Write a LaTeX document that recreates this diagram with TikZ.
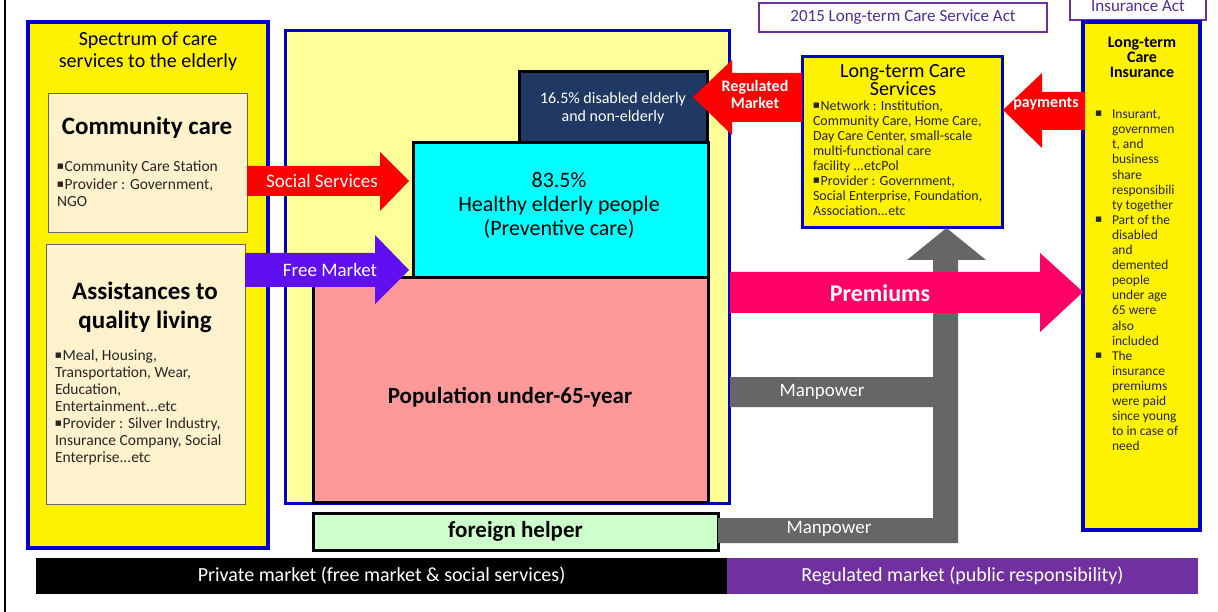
\documentclass[tikz,border=0pt]{standalone}
\usepackage{fontspec}
\setmainfont{Carlito}
\newfontfamily\symfont{DejaVu Sans}
\usetikzlibrary{positioning}

\definecolor{panelblue}{HTML}{0000CC}
\definecolor{paleyellow}{HTML}{FFFF99}
\definecolor{cream}{HTML}{FFF2CC}
\definecolor{navyfill}{HTML}{1F3864}
\definecolor{popfill}{HTML}{FF9999}
\definecolor{healthyfill}{HTML}{00FFFF}
\definecolor{helperfill}{HTML}{CCFFCC}
\definecolor{arrowred}{HTML}{FF0000}
\definecolor{freeviolet}{HTML}{6010F0}
\definecolor{premiumpink}{HTML}{FF0066}
\definecolor{mangray}{HTML}{666666}
\definecolor{regpurple}{HTML}{7030A0}
\definecolor{acttext}{HTML}{4A2FA0}

\newcommand{\sqb}{\raisebox{0.2em}{\symfont\fontsize{7}{7}\selectfont ■}\hspace{1pt}}

\begin{document}
\begin{tikzpicture}[x=1pt,y=-1pt,
    box/.style={anchor=north west, inner sep=0pt, outer sep=0pt},
    panel/.style={box, draw=panelblue, line width=3pt, fill=yellow},
    stack/.style={box, draw=black, line width=3pt},
    creambox/.style={box, draw=black!60, line width=1pt, fill=cream},
    txt/.style={inner sep=0pt, align=center},
    bodytxt/.style={box, align=left, text=black!85},
    wlabel/.style={inner sep=0pt, align=center, text=white}]
  \useasboundingbox (0,0) rectangle (1218,612);
  \clip (0,0) rectangle (1218,612);

  \draw [line width=1.5pt] (5,0) -- (5,612);% slide edge

  % left column
  \node [panel, line width=3.5pt, minimum width=240pt, minimum height=526pt] (spectrum) at (28,22) {};
  \node [txt, font=\fontsize{20}{22}\selectfont] (spectitle) at (148,51) {Spectrum of care\\services to the elderly};

  \node [creambox, minimum width=199pt, minimum height=139pt] (community) at (48,94) {};
  \node [txt, font=\bfseries\fontsize{25}{28}\selectfont] (commtitle) at (147,128) {Community care};
  \node [bodytxt, font=\fontsize{15.5}{17.5}\selectfont] (commtext) at (57,161) {\sqb Community Care Station\\\sqb Provider : Government,\\NGO};

  \node [creambox, minimum width=199pt, minimum height=259pt] (assist) at (46,245) {};
  \node [txt, font=\bfseries\fontsize{25}{29}\selectfont] (assisttitle) at (145,307.5) {Assistances to\\quality living};
  \node [bodytxt, font=\fontsize{15.5}{17}\selectfont] (assisttext) at (55,350) {\sqb Meal, Housing,\\Transportation, Wear,\\Education,\\Entertainment...etc\\\sqb Provider : Silver Industry,\\Insurance Company, Social\\Enterprise...etc};

  % middle stack
  \node [box, draw=panelblue, line width=3pt, fill=paleyellow, minimum width=444pt, minimum height=472pt] (center) at (285,31) {};
  \node [stack, fill=popfill, minimum width=395pt, minimum height=224pt] (population) at (313,278) {};
  \node [txt, font=\bfseries\fontsize{23}{26}\selectfont] (poptext) at (510,397) {Population under-65-year};
  \node [stack, fill=healthyfill, minimum width=295pt, minimum height=135pt] (healthy) at (413,143) {};
  \node [txt, font=\fontsize{22}{24}\selectfont] (healthytext) at (559,206) {83.5\%\\Healthy elderly people\\(Preventive care)};
  \node [stack, fill=navyfill, minimum width=188pt, minimum height=71pt] (disabled) at (519,72) {};
  \node [wlabel, font=\fontsize{16}{18}\selectfont] (disabledtext) at (613,108) {16.5\% disabled elderly\\and non-elderly};

  \node [stack, fill=helperfill, minimum width=405pt, minimum height=37pt] (helper) at (313,513) {};
  \node [txt, font=\bfseries\fontsize{23}{26}\selectfont] (helpertext) at (helper.center) {foreign helper};

  % acts
  \node [box, draw=regpurple, line width=2.5pt, fill=white, minimum width=288pt, minimum height=29pt] (actlcs) at (759,3) {};
  \node [txt, text=acttext, font=\fontsize{17}{19}\selectfont] (actlcstext) at (actlcs.center) {2015 Long-term Care Service Act};
  \node [box, draw=regpurple, line width=2.5pt, fill=white, minimum width=136pt, minimum height=35pt] (actins) at (1070,-15) {};
  \node [txt, text=acttext, font=\fontsize{17}{19}\selectfont] (actinstext) at (1138,6) {Insurance Act};

  % long-term care services
  \node [panel, minimum width=200pt, minimum height=171pt] (ltcs) at (802,57) {};
  \node [txt, font=\fontsize{20}{18}\selectfont] (ltcstitle) at (903,80) {Long-term Care\\Services};
  \node [bodytxt, font=\fontsize{14}{15}\selectfont] (ltcstext) at (813,101) {\sqb Network : Institution,\\Community Care, Home Care,\\Day Care Center, small-scale\\multi-functional care\\facility ...etcPol\\\sqb Provider : Government,\\Social Enterprise, Foundation,\\Association...etc};

  % long-term care insurance
  \node [panel, line width=3.5pt, minimum width=117pt, minimum height=508pt] (ltci) at (1083,22) {};
  \node [txt, font=\bfseries\fontsize{16}{15}\selectfont] (ltcititle) at (1142,57) {Long-term\\Care\\Insurance};
  \node [bodytxt, font=\fontsize{13.5}{15.1}\selectfont] (ltcitext) at (1112,110) {\llap{\sqb\hspace{9pt}}Insurant,\\governmen\\t, and\\business\\share\\responsibili\\ty together\\\llap{\sqb\hspace{9pt}}Part of the\\disabled\\and\\demented\\people\\under age\\65 were\\also\\included\\\llap{\sqb\hspace{9pt}}The\\insurance\\premiums\\were paid\\since young\\to in case of\\need};

  % arrows into the stack
  \fill [arrowred] (247,166) -- (380,166) -- (380,152) -- (409,181) -- (380,211) -- (380,196) -- (247,196) -- cycle;
  \node [wlabel, font=\fontsize{19}{21}\selectfont] (socialtext) at (322,181) {Social Services};
  \fill [freeviolet] (245,253) -- (375,253) -- (375,235) -- (409,270) -- (375,304) -- (375,287) -- (245,287) -- cycle;
  \node [wlabel, font=\fontsize{19}{21}\selectfont] (freetext) at (330,270) {Free Market};
  \fill [arrowred] (802,73) -- (732,73) -- (732,60) -- (693,97) -- (732,135) -- (732,122) -- (802,122) -- cycle;
  \node [wlabel, font=\bfseries\fontsize{16}{17}\selectfont] (regtext) at (755,94) {Regulated\\Market};
  \fill [arrowred] (1085,92) -- (1042,92) -- (1042,73) -- (1003,110) -- (1042,148) -- (1042,130) -- (1085,130) -- cycle;
  \node [wlabel, font=\bfseries\fontsize{16}{18}\selectfont] (paytext) at (1046,104) {payments};

  % manpower
  \fill [mangray] (730,377) -- (933,377) -- (933,260) -- (907,260) -- (946.5,228) -- (986,260) -- (958,260) -- (958,543) -- (718,543) -- (718,518) -- (933,518) -- (933,407) -- (730,407) -- cycle;
  \node [wlabel, font=\fontsize{19}{21}\selectfont] (manup) at (822,392) {Manpower};
  \node [wlabel, font=\fontsize{19}{21}\selectfont] (mandown) at (829,529) {Manpower};

  % premiums
  \fill [premiumpink] (730,272) -- (1040,272) -- (1040,253) -- (1083,292) -- (1040,332) -- (1040,313) -- (730,313) -- cycle;
  \node [wlabel, font=\bfseries\fontsize{24}{26}\selectfont] (premtext) at (880,293) {Premiums};

  % bottom bar
  \node [box, fill=black, minimum width=691pt, minimum height=36pt] (privbar) at (36,558) {};
  \node [wlabel, font=\fontsize{20}{22}\selectfont] (privtext) at (privbar.center) {Private market (free market \& social services)};
  \node [box, fill=regpurple, minimum width=471pt, minimum height=36pt] (regbar) at (727,558) {};
  \node [wlabel, font=\fontsize{20}{22}\selectfont] (regbartext) at (regbar.center) {Regulated market (public responsibility)};
\end{tikzpicture}
\end{document}
